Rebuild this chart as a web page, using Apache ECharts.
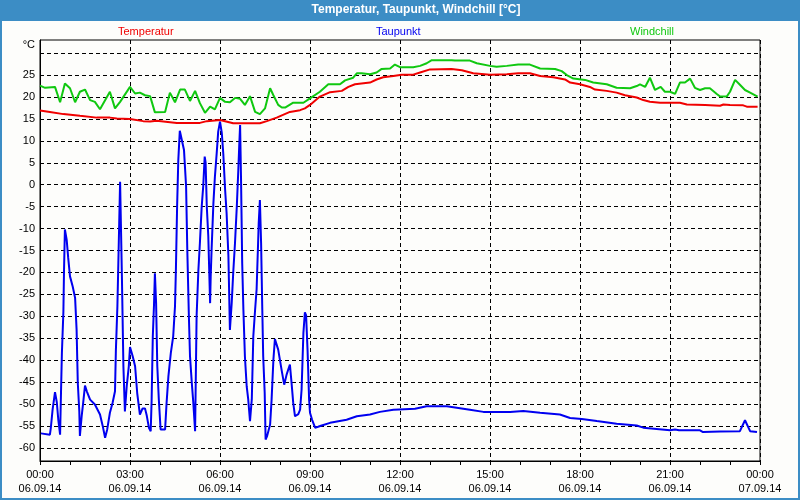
<!DOCTYPE html>
<html>
<head>
<meta charset="utf-8">
<script src="https://cdn.jsdelivr.net/npm/echarts@6/dist/echarts.min.js"></script>
<style>
html,body{margin:0;padding:0;background:#fdfdfb;}
#c{width:800px;height:500px;}
</style>
</head>
<body>
<div id="c"></div>
<script>
// ---- tick labels ----
const xTickLabels = ['00:00\n06.09.14','03:00\n06.09.14','06:00\n06.09.14','09:00\n06.09.14','12:00\n06.09.14','15:00\n06.09.14','18:00\n06.09.14','21:00\n06.09.14','00:00\n07.09.14'];
const yGridValues = [-60,-55,-50,-45,-40,-35,-30,-25,-20,-15,-10,-5,0,5,10,15,20,25,30];
const yLabelValues = [-60,-55,-50,-45,-40,-35,-30,-25,-20,-15,-10,-5,0,5,10,15,20,25];

// ---- Temperatur (hours since 00:00 06.09.14, °C) ----
const tempHours = [0,0.33,0.78,1.33,1.89,2.33,2.56,3.0,3.44,3.67,3.89,4.56,5.33,5.56,6.0,6.44,7.33,7.56,7.89,8.33,8.67,8.83,9.0,9.33,9.67,10.06,10.28,10.5,11.0,11.22,11.44,11.78,11.83,12.06,12.44,12.67,13.0,13.72,14.06,14.44,15.0,15.56,15.94,16.33,16.67,17.11,17.5,17.67,18.0,18.33,18.5,18.89,19.22,19.5,19.89,20.11,20.33,20.67,21.33,21.56,22.17,22.22,22.67,22.78,23.0,23.44,23.56,23.92];
const tempValues = [16.9,16.6,16.1,15.7,15.3,15.3,15.1,15.0,14.5,14.4,14.6,14.1,14.1,14.5,14.75,14.0,14.0,14.5,15.3,16.6,17.0,17.4,18.2,20.1,21.1,21.4,22.3,22.9,23.3,24.0,24.5,24.8,25.2,25.1,25.1,25.6,26.3,26.4,26.1,25.4,25.1,25.2,25.4,25.4,24.8,24.5,24.0,23.3,22.9,22.3,21.7,21.4,21.0,20.4,19.9,19.3,18.9,18.7,18.7,18.3,18.2,18.0,18.0,18.3,18.2,18.1,17.8,17.8];

// ---- Taupunkt ----
const dewHours = [0.03,0.33,0.36,0.42,0.5,0.56,0.61,0.67,0.7,0.73,
  0.78,0.8,0.83,0.89,0.94,1.0,1.09,1.17,1.22,1.26,
  1.31,1.33,1.39,1.44,1.5,1.56,1.67,1.83,2.0,2.09,
  2.17,2.24,2.33,2.42,2.5,2.53,2.58,2.61,2.64,2.67,
  2.7,2.73,2.78,2.83,2.89,2.96,3.0,3.09,3.17,3.24,
  3.33,3.42,3.5,3.56,3.63,3.69,3.72,3.76,3.8,3.83,
  3.87,3.91,3.96,4.02,4.17,4.22,4.28,4.36,4.44,4.5,
  4.53,4.57,4.61,4.66,4.72,4.8,4.87,4.91,4.96,5.0,
  5.06,5.11,5.17,5.22,5.28,5.33,5.39,5.44,5.49,5.52,
  5.56,5.61,5.67,5.69,5.72,5.78,5.83,5.89,5.94,6.0,
  6.06,6.11,6.17,6.22,6.28,6.33,6.39,6.44,6.5,6.56,
  6.61,6.64,6.67,6.7,6.74,6.78,6.83,6.89,6.94,7.0,
  7.06,7.11,7.17,7.22,7.27,7.29,7.33,7.37,7.41,7.44,
  7.49,7.52,7.57,7.67,7.72,7.78,7.83,7.94,8.06,8.14,
  8.22,8.33,8.39,8.44,8.5,8.61,8.67,8.72,8.78,8.83,
  8.87,8.92,8.97,9.0,9.07,9.17,9.27,9.39,9.67,10.22,
  10.56,11.0,11.33,11.78,12.5,12.89,13.56,14.33,14.78,15.67,
  16.11,16.67,17.33,17.67,18.06,18.56,19.22,19.89,20.11,21.0,
  21.17,21.3,22.0,22.1,22.67,23.33,23.37,23.5,23.67,23.9];
const dewValues = [-56.7,-57,-55.5,-51.3,-47.3,-49.6,-53.6,-57,-47.4,-38.3,
  -28.9,-19.8,-10.2,-12.6,-16.7,-20.9,-23.2,-25.8,-33.1,-45.2,
  -51.7,-57.3,-52.7,-49.7,-45.8,-47.1,-49,-50.1,-52.4,-55,
  -57.7,-55.8,-52,-49.7,-47.1,-37.6,-27.7,-18.3,-8.8,0.7,
  0.7,-20.9,-41.4,-51.7,-46,-41.4,-37,-39.1,-41.4,-47.5,
  -52.4,-51,-51,-52.7,-55.4,-56.2,-49.4,-34.6,-27.4,-20.2,
  -27,-41.4,-48.9,-55.8,-55.8,-49.7,-43.7,-38.4,-34.6,-27.7,
  -19.4,-5,5.6,12.3,11.9,7.9,-0.4,-14.8,-29.3,-39.1,
  -45.2,-49.7,-56.2,-30,-19.4,-13.3,-5,-0.4,6.4,5.1,
  -5,-11.8,-27,-20.9,-14.8,-4.2,1.8,7.2,12.1,14.4,
  11.8,7,-1.1,-6.5,-16.2,-33.1,-27,-20.2,-13.3,-5,
  3.3,8.7,13.6,1.8,-17.9,-28.5,-39.1,-46,-48.9,-53.9,
  -48.9,-34.6,-28.5,-23.9,-13.3,-8.8,-3.5,-13.3,-28.5,-39.1,
  -47.5,-58.1,-57.3,-54.7,-49,-39.9,-35.2,-37.6,-42.5,-45.6,
  -43.3,-41,-45.6,-49.7,-52.8,-52.3,-51.3,-46.7,-33.8,-29.1,
  -29.8,-38,-49,-52,-53.6,-55.4,-55.2,-54.9,-54.3,-53.6,
  -52.8,-52.4,-51.8,-51.3,-51.1,-50.5,-50.5,-51.3,-51.8,-51.8,
  -51.6,-52,-52.4,-53.2,-53.4,-53.9,-54.5,-54.9,-55.4,-56,
  -55.8,-56,-56,-56.4,-56.3,-56.2,-56.4,-53.7,-56.2,-56.4];

// ---- Windchill ----
const chillHours = [0,0.17,0.5,0.67,0.83,1.0,1.17,1.33,1.5,1.67,
  1.83,2.0,2.33,2.5,2.67,3.0,3.17,3.33,3.5,3.67,
  3.83,4.17,4.33,4.5,4.67,4.83,5.0,5.17,5.33,5.5,
  5.67,5.83,6.0,6.17,6.33,6.5,6.67,6.83,7.0,7.17,
  7.33,7.5,7.67,7.78,7.94,8.06,8.17,8.44,8.78,9.0,
  9.33,9.61,10.0,10.17,10.44,10.56,10.72,11.0,11.22,11.39,
  11.67,11.83,12.0,12.44,12.67,12.89,13.06,13.72,13.83,14.33,
  14.56,15.0,15.22,15.56,15.94,16.33,16.67,17.17,17.39,17.56,
  17.78,18.17,18.44,18.89,19.22,19.67,19.89,20.0,20.17,20.33,
  20.5,20.69,20.83,21.0,21.17,21.33,21.5,21.67,21.83,22.0,
  22.17,22.33,22.56,22.67,22.89,23.0,23.17,23.33,23.5,23.67,
  23.92];
const chillValues = [22.6,22.1,22.3,18.8,23.1,22.0,18.8,21.2,21.7,19.3,
  18.9,17.2,21.2,17.4,18.9,22.3,20.8,21.0,20.4,20.2,
  16.5,16.6,21.0,18.8,21.7,21.7,19.1,21.4,18.6,16.4,
  17.8,17.2,19.8,18.9,18.8,19.8,19.6,18.2,20.2,16.6,
  16.1,17.4,22.0,20.4,18.2,17.6,17.6,18.7,18.7,19.7,
  21.2,22.9,22.9,23.8,24.4,25.4,25.4,25.2,25.6,26.4,
  26.5,27.4,26.8,26.8,27.1,27.7,28.4,28.4,28.3,28.3,
  27.7,27.1,26.9,27.1,27.4,27.4,26.5,26.4,25.9,25.0,
  24.2,23.9,23.3,22.9,22.1,22.0,22.5,22.9,22.3,24.4,
  21.6,22.3,21.2,21.2,20.7,23.3,23.3,24.2,22.1,21.6,
  22.0,22.0,20.7,20.1,20.1,21.2,23.9,22.8,21.6,21.0,
  20.1];

const pairs = (xs, ys) => xs.map((x, i) => [x, ys[i]]);
const FONT = 'Liberation Sans';
const RED = '#f00000', BLUE = '#0000f0', GREEN = '#10c810';

const chart = echarts.init(document.getElementById('c'), null, {renderer: 'canvas'});
chart.setOption({
  backgroundColor: '#fdfdfb',
  animation: false,
  textStyle: {fontFamily: FONT},
  graphic: [
    {type: 'rect', z: -10, silent: true, shape: {x: 0, y: 0, width: 800, height: 21}, style: {fill: '#3c8dc5'}},
    {type: 'rect', z: -10, silent: true, shape: {x: 1, y: 1, width: 798, height: 498}, style: {fill: null, stroke: '#3c8dc5', lineWidth: 2}}
  ],
  title: {
    text: 'Temperatur, Taupunkt, Windchill [°C]',
    left: 416, top: 0, textAlign: 'center', padding: [4, 0, 0, 0],
    textStyle: {color: '#ffffff', fontSize: 12, fontWeight: 'bold', fontFamily: FONT}
  },
  legend: [
    {data: [{name: 'Temperatur', textStyle: {color: RED}}], left: 108, top: 20},
    {data: [{name: 'Taupunkt', textStyle: {color: BLUE}}], left: 366, top: 20},
    {data: [{name: 'Windchill', textStyle: {color: GREEN}}], left: 620, top: 20}
  ].map(l => Object.assign(l, {icon: 'none', itemWidth: 0, itemHeight: 14, selectedMode: false, textStyle: {fontSize: 11, fontFamily: FONT}})),
  grid: {left: 40, right: 40, top: 40, bottom: 39, show: true, borderColor: '#000', borderWidth: 1, backgroundColor: 'transparent'},
  xAxis: {
    type: 'value', min: 0, max: 24, interval: 3,
    axisLine: {onZero: false, lineStyle: {color: '#000', width: 1}},
    axisTick: {show: true, length: 4, lineStyle: {color: '#000'}},
    minorTick: {show: true, splitNumber: 3, length: 4, lineStyle: {color: '#000'}},
    axisLabel: {color: '#000', fontSize: 11, lineHeight: 14, margin: 7, fontFamily: FONT,
      formatter: v => xTickLabels[Math.round(v / 3)]},
    splitLine: {show: true, lineStyle: {color: '#000', type: [4, 3], width: 1}}
  },
  yAxis: {
    type: 'value', min: -63, max: 33,
    name: '°C', nameLocation: 'end', nameGap: -5,
    nameTextStyle: {align: 'right', verticalAlign: 'middle', padding: [0, 5, 0, 0], color: '#000', fontSize: 11, fontFamily: FONT},
    axisLine: {show: true, onZero: false, lineStyle: {color: '#000', width: 1}},
    axisTick: {show: false, customValues: yGridValues},
    axisLabel: {customValues: yLabelValues, color: '#000', fontSize: 11, margin: 5, fontFamily: FONT},
    splitLine: {show: true, lineStyle: {color: '#000', type: [4, 3], width: 1}}
  },
  series: [
    {name: 'Temperatur', type: 'line', data: pairs(tempHours, tempValues), showSymbol: false,
     lineStyle: {color: RED, width: 2}, itemStyle: {color: RED}},
    {name: 'Taupunkt', type: 'line', data: pairs(dewHours, dewValues), showSymbol: false,
     lineStyle: {color: BLUE, width: 2}, itemStyle: {color: BLUE}},
    {name: 'Windchill', type: 'line', data: pairs(chillHours, chillValues), showSymbol: false,
     lineStyle: {color: GREEN, width: 2}, itemStyle: {color: GREEN}}
  ]
});
</script>
</body>
</html>
